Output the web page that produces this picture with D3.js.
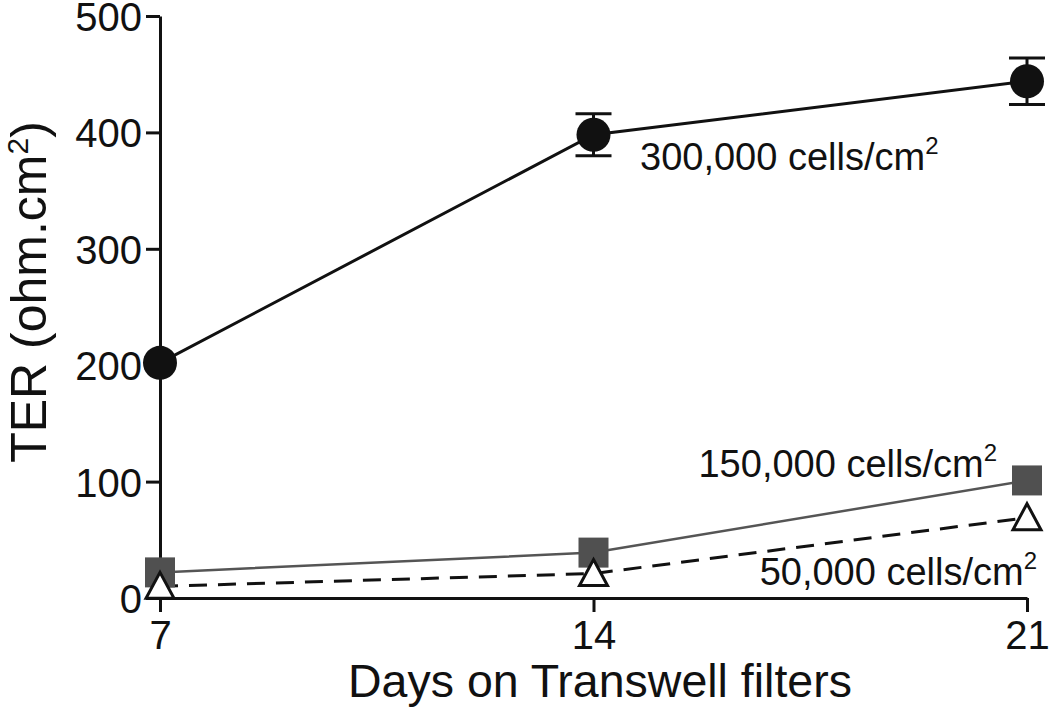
<!DOCTYPE html>
<html>
<head>
<meta charset="utf-8">
<script src="https://cdn.jsdelivr.net/npm/d3@7"></script>
<style>
  body { margin: 0; background: #fff; }
  text { font-family: "Liberation Sans", Arial, sans-serif; fill: #111; }
</style>
</head>
<body>
<div id="chart"></div>
<script>
// data
var days = [7, 14, 21];
var ter300 = [202, 398, 444];
var err300 = [0, 18, 20];
var ter150 = [22, 39, 101];
var ter50 = [10, 21, 69];
var yTicks = [0, 100, 200, 300, 400, 500];
var seriesLabels = ["300,000 cells/cm", "150,000 cells/cm", "50,000 cells/cm"];

var W = 1050, H = 710;
var margin = {top: 16, right: 23, bottom: 112, left: 160};

var svg = d3.select("#chart").append("svg")
    .attr("width", W)
    .attr("height", H);

var x = d3.scaleLinear().domain([7, 21]).range([margin.left, W - margin.right]);
var y = d3.scaleLinear().domain([0, 500]).range([H - margin.bottom, margin.top]);

// axes
var xAxis = svg.append("g")
    .attr("transform", "translate(0," + y(0) + ")")
    .call(d3.axisBottom(x).tickValues(days).tickSize(14).tickPadding(8).tickSizeOuter(0));
var yAxis = svg.append("g")
    .attr("transform", "translate(" + x(7) + ",0)")
    .call(d3.axisLeft(y).tickValues(yTicks).tickSize(14).tickPadding(4).tickSizeOuter(0));

[xAxis, yAxis].forEach(function(a) {
  a.select(".domain").attr("stroke", "#111").attr("stroke-width", 3);
  a.selectAll(".tick line").attr("stroke", "#111").attr("stroke-width", 3);
  a.selectAll(".tick text").style("font-size", "40px").attr("fill", "#111");
});
xAxis.selectAll(".tick text").attr("dy", "0.72em");
yAxis.selectAll(".tick text").attr("dy", "0.36em");

// axis titles
svg.append("text")
    .attr("x", 600)
    .attr("y", 697)
    .attr("text-anchor", "middle")
    .style("font-size", "46.5px")
    .text("Days on Transwell filters");

var yt = svg.append("text")
    .attr("transform", "translate(46," + 292 + ") rotate(-90)")
    .attr("text-anchor", "middle")
    .style("font-size", "50px");
yt.append("tspan").text("TER (ohm.cm");
yt.append("tspan").attr("dy", -18).style("font-size", "30px").text("2");
yt.append("tspan").attr("dy", 18).text(")");

var line = d3.line()
    .x(function(d) { return x(d[0]); })
    .y(function(d) { return y(d[1]); });

function pairs(vals) { return days.map(function(d, i) { return [d, vals[i]]; }); }

// lines
svg.append("path").datum(pairs(ter50))
    .attr("d", line).attr("fill", "none")
    .attr("stroke", "#111").attr("stroke-width", 3)
    .attr("stroke-dasharray", "18,11");
svg.append("path").datum(pairs(ter150))
    .attr("d", line).attr("fill", "none")
    .attr("stroke", "#555").attr("stroke-width", 2.5);
svg.append("path").datum(pairs(ter300))
    .attr("d", line).attr("fill", "none")
    .attr("stroke", "#111").attr("stroke-width", 3);

// error bars for 300,000
var eb = svg.append("g").selectAll("g")
    .data(pairs(ter300).map(function(p, i) { return {x: p[0], y: p[1], e: err300[i]}; })
      .filter(function(d) { return d.e > 0; }))
    .enter().append("g")
    .attr("stroke", "#111").attr("stroke-width", 3);
eb.append("line")
    .attr("x1", function(d) { return x(d.x); }).attr("x2", function(d) { return x(d.x); })
    .attr("y1", function(d) { return y(d.y + d.e); }).attr("y2", function(d) { return y(d.y - d.e); });
eb.append("line")
    .attr("x1", function(d) { return x(d.x) - 18; }).attr("x2", function(d) { return x(d.x) + 18; })
    .attr("y1", function(d) { return y(d.y + d.e); }).attr("y2", function(d) { return y(d.y + d.e); });
eb.append("line")
    .attr("x1", function(d) { return x(d.x) - 18; }).attr("x2", function(d) { return x(d.x) + 18; })
    .attr("y1", function(d) { return y(d.y - d.e); }).attr("y2", function(d) { return y(d.y - d.e); });

// markers
svg.append("g").selectAll("rect")
    .data(pairs(ter150))
    .enter().append("rect")
    .attr("x", function(d) { return x(d[0]) - 15; })
    .attr("y", function(d) { return y(d[1]) - 15; })
    .attr("width", 30).attr("height", 30)
    .attr("fill", "#505050");

svg.append("g").selectAll("path")
    .data(pairs(ter50))
    .enter().append("path")
    .attr("transform", function(d) { return "translate(" + x(d[0]) + "," + y(d[1]) + ")"; })
    .attr("d", "M0,-14L14,12L-14,12Z")
    .attr("fill", "#fff").attr("stroke", "#111").attr("stroke-width", 3)
    .attr("stroke-linejoin", "miter");

svg.append("g").selectAll("circle")
    .data(pairs(ter300))
    .enter().append("circle")
    .attr("cx", function(d) { return x(d[0]); })
    .attr("cy", function(d) { return y(d[1]); })
    .attr("r", 17)
    .attr("fill", "#111");

// series labels
var labelPos = [
  {x: 640, y: 170, anchor: "start"},
  {x: 997, y: 477, anchor: "end"},
  {x: 1037, y: 585, anchor: "end"}
];
seriesLabels.forEach(function(s, i) {
  var t = svg.append("text")
      .attr("x", labelPos[i].x).attr("y", labelPos[i].y)
      .attr("text-anchor", labelPos[i].anchor)
      .style("font-size", "38px");
  t.append("tspan").text(s);
  t.append("tspan").attr("dy", -16).style("font-size", "24px").text("2");
});
</script>
</body>
</html>
